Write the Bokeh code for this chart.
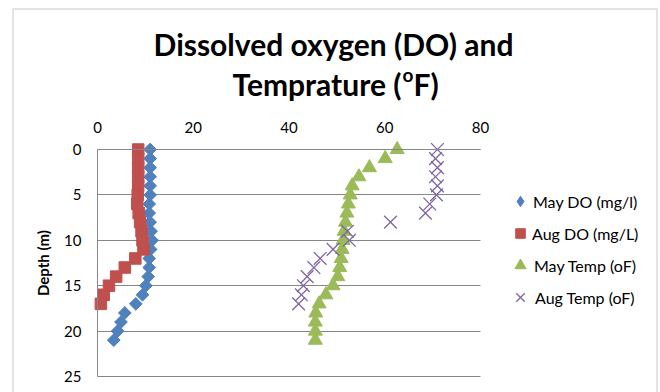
import numpy as np
from bokeh.plotting import figure
from bokeh.models import (Range1d, FixedTicker, Legend, LegendItem, Label,
                          BoxAnnotation, Grid)
from bokeh.embed import file_html
from bokeh.resources import INLINE

# ---------------- data ----------------
may_depth = list(range(0, 22))
may_do = [11.0, 11.0, 11.0, 11.0, 11.0, 11.0, 10.8, 10.8, 11.0, 11.2, 11.4, 11.1,
          10.8, 10.8, 10.6, 10.1, 9.4, 8.0, 5.7, 4.9, 4.2, 3.4]
may_temp = [62.6, 60.1, 56.8, 54.6, 53.2, 52.8, 52.4, 52.1, 51.8, 51.5, 51.3, 51.1,
            50.9, 50.6, 50.2, 49.2, 47.7, 46.3, 45.6, 45.5, 45.5, 45.5]
aug_depth = list(range(0, 18))
aug_do = [8.5, 8.5, 8.5, 8.5, 8.5, 8.4, 8.3, 8.6, 8.9, 9.2, 9.4, 9.6,
          7.9, 5.7, 3.9, 2.4, 1.3, 0.7]
aug_temp = [71.0, 70.6, 71.0, 70.6, 71.0, 70.8, 69.4, 68.5, 61.2, 52.2, 52.6, 49.2,
            46.5, 45.2, 43.8, 43.0, 42.6, 42.0]

x_ticks = [0, 20, 40, 60, 80]
y_ticks = [0, 5, 10, 15, 20, 25]
series_names = ["May DO (mg/l)", "Aug DO (mg/L)", "May Temp (oF)", "Aug Temp (oF)"]
title_line1 = "Dissolved oxygen (DO) and"
title_line2a = "Temprature ("
title_sup = "o"
title_line2b = "F)"
y_label = "Depth (m)"

BLUE = "#4F81BD"
RED = "#C0504D"
GREEN = "#9BBB59"
PURPLE = "#8064A2"
GRID = "#868686"
FONT = "Lato"

W, H = 660, 392
# value area inside the canvas (pixels)
PX_L, PX_R, PY_T, PY_B = 97.0, 480.0, 149.0, 376.0
X0, X1, Y0, Y1 = 0.0, 80.0, 0.0, 25.0
kx = (PX_R - PX_L) / (X1 - X0)
ky = (PY_B - PY_T) / (Y1 - Y0)
x_start = X0 - PX_L / kx
x_end = X0 + (W - PX_L) / kx
y_top = Y0 - PY_T / ky
y_bot = Y0 + (H - PY_T) / ky


def dx(px):
    return X0 + (px - PX_L) / kx


def dy(py):
    return Y0 + (py - PY_T) / ky


p = figure(width=W, height=H, output_backend="svg", toolbar_location=None,
           x_range=Range1d(x_start, x_end), y_range=Range1d(y_bot, y_top),
           x_axis_location="above",
           min_border_left=0, min_border_right=0,
           min_border_top=0, min_border_bottom=0)
p.outline_line_color = None
p.background_fill_color = "white"
p.border_fill_color = "white"

# axes pinned to the value area
p.xaxis.fixed_location = 0
p.yaxis.fixed_location = 0
p.xaxis.bounds = (X0, X1)
p.yaxis.bounds = (Y0, Y1)
p.xaxis.ticker = FixedTicker(ticks=x_ticks)
p.yaxis.ticker = FixedTicker(ticks=y_ticks)
for ax in (p.xaxis, p.yaxis):
    ax.major_tick_line_color = None
    ax.minor_tick_line_color = None
    ax.major_tick_out = 0
    ax.major_tick_in = 0
    ax.axis_line_color = GRID
    ax.axis_line_width = 1
    ax.major_label_text_font = FONT
    ax.major_label_text_font_size = "15px"
    ax.major_label_text_color = "#000000"
p.xaxis.major_label_standoff = 17
p.yaxis.major_label_standoff = 16
p.yaxis.axis_label = y_label
p.yaxis.axis_label_text_font = FONT
p.yaxis.axis_label_text_font_style = "bold"
p.yaxis.axis_label_text_font_size = "15px"
p.yaxis.axis_label_standoff = 9
p.yaxis.axis_label_text_color = "#000000"

# horizontal gridlines only across the value area
p.xgrid.grid_line_color = None
if "cross_bounds" in Grid.properties():
    p.ygrid.grid_line_color = GRID
    p.ygrid.grid_line_width = 1
    p.ygrid.bounds = (Y0, Y1)
    p.ygrid.cross_bounds = (X0, X1)
else:
    p.ygrid.grid_line_color = None
    p.segment(x0=[X0] * len(y_ticks), y0=y_ticks, x1=[X1] * len(y_ticks),
              y1=y_ticks, line_color=GRID, line_width=1)

# legend key for the diamond series (legend keys ignore marker angle);
# drawn first, on the first May DO point, so the series hides it
r1_key = p.scatter(x=may_do[:1], y=may_depth[:1], marker="diamond", size=8,
                   fill_color=BLUE, line_color=BLUE)

# series
r1 = p.scatter(may_do, may_depth, marker="square", angle=np.pi / 4, size=9,
               fill_color=BLUE, line_color=BLUE)
r2 = p.scatter(aug_do, aug_depth, marker="square", size=11.5,
               fill_color=RED, line_color=RED)
r3 = p.scatter(may_temp, may_depth, marker="triangle", size=14,
               fill_color=GREEN, line_color=GREEN)
r4 = p.scatter(aug_temp, aug_depth, marker="x", size=18,
               line_color=PURPLE, line_width=1.3)

# legend: one block per entry so each key gets its own size
LEG_CX, LEG_TEXT_X = 520, 529
rows_y = [201, 233, 265, 297]
key_box = [26, 24, 28, 30]
for name, r, cy, d in zip(series_names, [r1_key, r2, r3, r4], rows_y, key_box):
    lg = Legend(items=[LegendItem(label=name, renderers=[r])],
                location=(LEG_CX - d // 2, H - cy - d // 2),
                margin=0, padding=0, spacing=0,
                glyph_width=d, glyph_height=d, label_height=d,
                label_standoff=LEG_TEXT_X - (LEG_CX + d // 2),
                border_line_color=None, background_fill_alpha=0,
                label_text_font=FONT, label_text_font_size="16px",
                label_text_color="#000000")
    p.add_layout(lg, "center")


def title_label(x, y, text, align, size):
    return Label(x=x, y=y, text=text, text_align=align, text_baseline="middle",
                 text_font=FONT, text_font_style="bold", text_font_size=size,
                 text_color="#000000")


p.add_layout(title_label(dx(333), dy(43), title_line1, "center", "30px"))
p.add_layout(title_label(dx(401), dy(83), title_line2a, "right", "30px"))
p.add_layout(title_label(dx(402), dy(74), title_sup, "left", "19px"))
p.add_layout(title_label(dx(413), dy(83), title_line2b, "left", "30px"))

# outer chart border
p.add_layout(BoxAnnotation(left=dx(12.5), right=dx(656.5), top=dy(8.5),
                           bottom=dy(420), fill_alpha=0,
                           line_color="#898989", line_width=1.5))

open("out.html", "w").write(file_html(p, INLINE))
